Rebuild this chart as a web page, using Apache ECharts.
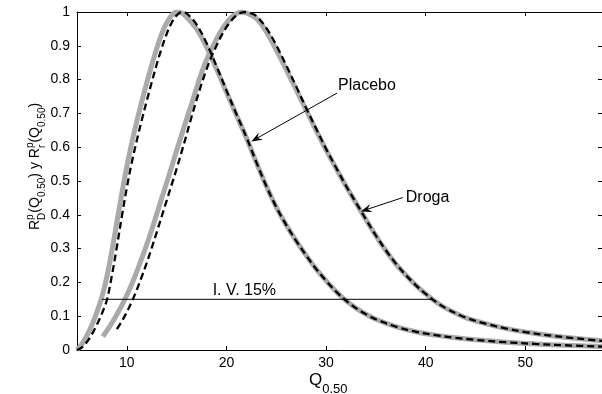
<!DOCTYPE html>
<html><head><meta charset="utf-8">
<script src="https://cdn.jsdelivr.net/npm/echarts@6/dist/echarts.min.js"></script>
<style>html,body{margin:0;padding:0;background:#fff}#c{width:602px;height:394px}</style>
</head><body><div id="c"></div>
<script>
// ---- data ----
const xTickValues = [10, 20, 30, 40, 50];
const xMin = 5, xMax = 57.7;
const yMin = 0, yMax = 1, yStep = 0.1;

const placeboGrayX = [5, 5.5, 6, 6.5, 7, 7.5, 8, 8.5, 9, 9.5, 10, 10.5, 11, 11.5, 12, 12.5, 13, 13.5, 14, 14.5, 15, 15.5, 16, 17, 18, 19, 20, 21, 22, 23, 24, 25, 26, 27, 28, 29, 30, 31, 32, 33, 34, 35, 37, 39, 41, 43, 45, 48, 51, 54, 57.7];
const placeboGrayY = [0, 0.018, 0.043, 0.074, 0.112, 0.157, 0.217, 0.293, 0.378, 0.463, 0.543, 0.613, 0.676, 0.735, 0.79, 0.843, 0.892, 0.935, 0.968, 0.99, 1.0, 0.997, 0.985, 0.95, 0.897, 0.832, 0.763, 0.695, 0.628, 0.555, 0.485, 0.423, 0.37, 0.323, 0.28, 0.24, 0.205, 0.173, 0.146, 0.124, 0.106, 0.091, 0.069, 0.054, 0.044, 0.036, 0.03, 0.023, 0.018, 0.014, 0.01];

const placeboDashX = [5, 5.5, 6, 6.5, 7, 7.5, 8, 8.5, 9, 9.5, 10, 10.5, 11, 11.5, 12, 12.5, 13, 13.5, 14, 14.5, 15, 15.5, 16, 17, 18, 19, 20, 21, 22, 23, 24, 25, 26, 27, 28, 29, 30, 31, 32, 33, 34, 35, 37, 39, 41, 43, 45, 48, 51, 54, 57.7];
const placeboDashY = [0, 0.008, 0.024, 0.047, 0.075, 0.108, 0.148, 0.22, 0.305, 0.395, 0.48, 0.555, 0.62, 0.68, 0.737, 0.792, 0.845, 0.893, 0.935, 0.968, 0.99, 1.0, 0.996, 0.963, 0.908, 0.84, 0.768, 0.698, 0.63, 0.556, 0.485, 0.423, 0.37, 0.323, 0.28, 0.24, 0.205, 0.173, 0.146, 0.124, 0.106, 0.091, 0.069, 0.054, 0.044, 0.036, 0.03, 0.023, 0.018, 0.014, 0.01];

const drogaGrayX = [7.6, 8, 8.5, 9, 9.5, 10, 10.5, 11, 11.5, 12, 12.5, 13, 13.5, 14, 14.5, 15, 15.5, 16, 16.5, 17, 17.5, 18, 18.5, 19, 19.5, 20, 20.5, 21, 21.5, 22, 23, 24, 25, 26, 27, 28, 29, 30, 31, 32, 33, 34, 35, 36, 37, 38, 39, 40, 41, 42, 44, 46, 48, 50, 53, 57.7];
const drogaGrayY = [0.04, 0.057, 0.08, 0.105, 0.132, 0.162, 0.195, 0.232, 0.271, 0.312, 0.356, 0.402, 0.449, 0.495, 0.542, 0.59, 0.637, 0.683, 0.728, 0.775, 0.82, 0.858, 0.89, 0.92, 0.946, 0.967, 0.984, 0.995, 1.0, 0.997, 0.981, 0.942, 0.888, 0.83, 0.77, 0.71, 0.65, 0.592, 0.538, 0.485, 0.435, 0.386, 0.338, 0.294, 0.255, 0.222, 0.192, 0.166, 0.143, 0.124, 0.096, 0.078, 0.064, 0.053, 0.041, 0.027];

const drogaDashX = [9, 9.5, 10, 10.5, 11, 11.5, 12, 12.5, 13, 13.5, 14, 14.5, 15, 15.5, 16, 16.5, 17, 17.5, 18, 18.5, 19, 19.5, 20, 20.5, 21, 21.5, 22, 22.5, 23, 24, 25, 26, 27, 28, 29, 30, 31, 32, 33, 34, 35, 36, 37, 38, 39, 40, 41, 42, 44, 46, 48, 50, 53, 57.7];
const drogaDashY = [0.062, 0.085, 0.112, 0.143, 0.178, 0.217, 0.258, 0.302, 0.348, 0.395, 0.442, 0.489, 0.536, 0.586, 0.637, 0.69, 0.74, 0.787, 0.83, 0.868, 0.9, 0.93, 0.955, 0.975, 0.99, 0.998, 1.0, 0.996, 0.988, 0.953, 0.902, 0.842, 0.78, 0.716, 0.655, 0.595, 0.54, 0.486, 0.436, 0.387, 0.339, 0.295, 0.256, 0.222, 0.192, 0.166, 0.143, 0.124, 0.096, 0.078, 0.064, 0.053, 0.041, 0.027];

const ivLineX = [7.5, 40.6];
const ivLineY = [0.15, 0.15];
const ivLabel = 'I. V. 15%';
const ivLabelAt = [21.8, 0.15];

const placeboLabel = 'Placebo';
const placeboArrowFrom = [31.1, 0.76];
const placeboArrowTo = [22.5, 0.617];
const placeboLabelAt = [31.2, 0.781];

const drogaLabel = 'Droga';
const drogaArrowFrom = [37.7, 0.451];
const drogaArrowTo = [33.5, 0.41];
const drogaLabelAt = [37.8, 0.451];

// ---- chart ----
const FONT = '"Liberation Sans", Arial, Helvetica, sans-serif';
const zip = (xs, ys) => xs.map((x, i) => [x, ys[i]]);
const chart = echarts.init(document.getElementById('c'), null, {renderer: 'canvas'});

const axisLineStyle = {color: '#000', width: 1};
chart.setOption({
  animation: false,
  backgroundColor: '#fff',
  grid: {left: 77, right: -2, top: 12, bottom: 44, containLabel: false},
  xAxis: [{
    type: 'value', position: 'bottom', min: xMin, max: xMax,
    axisLine: {show: true, onZero: false, lineStyle: axisLineStyle},
    axisTick: {show: true, inside: true, length: 4, customValues: xTickValues, lineStyle: axisLineStyle},
    axisLabel: {show: true, customValues: xTickValues, color: '#000', fontSize: 14, fontFamily: FONT, margin: 6},
    splitLine: {show: false}
  }, {
    type: 'value', position: 'top', min: xMin, max: xMax,
    axisLine: {show: true, onZero: false, lineStyle: axisLineStyle},
    axisTick: {show: true, inside: true, length: 4, customValues: xTickValues, lineStyle: axisLineStyle},
    axisLabel: {show: false},
    splitLine: {show: false}
  }],
  yAxis: [{
    type: 'value', position: 'left', min: yMin, max: yMax, interval: yStep,
    axisLine: {show: true, onZero: false, lineStyle: axisLineStyle},
    axisTick: {show: true, inside: true, length: 4, lineStyle: axisLineStyle},
    axisLabel: {color: '#000', fontSize: 14, fontFamily: FONT, margin: 7,
      formatter: v => String(Math.round(v * 10) / 10)},
    splitLine: {show: false}
  }, {
    type: 'value', position: 'right', min: yMin, max: yMax, interval: yStep,
    axisLine: {show: true, onZero: false, lineStyle: axisLineStyle},
    axisTick: {show: true, inside: true, length: 4, lineStyle: axisLineStyle},
    axisLabel: {show: false},
    splitLine: {show: false}
  }],
  series: [
    {type: 'line', name: 'PlaceboGray', data: zip(placeboGrayX, placeboGrayY), showSymbol: false, smooth: 0.35,
      lineStyle: {color: '#aaaaaa', width: 5}, z: 2},
    {type: 'line', name: 'DrogaGray', data: zip(drogaGrayX, drogaGrayY), showSymbol: false, smooth: 0.35,
      lineStyle: {color: '#aaaaaa', width: 5}, z: 2},
    {type: 'line', name: 'PlaceboDash', data: zip(placeboDashX, placeboDashY), showSymbol: false, smooth: 0.35,
      lineStyle: {color: '#000', width: 2.3, type: [7, 4]}, z: 3},
    {type: 'line', name: 'DrogaDash', data: zip(drogaDashX, drogaDashY), showSymbol: false, smooth: 0.35,
      lineStyle: {color: '#000', width: 2.3, type: [7, 4]}, z: 3},
    {type: 'line', name: 'IV', data: zip(ivLineX, ivLineY), showSymbol: false,
      lineStyle: {color: '#000', width: 1}, z: 4}
  ]
});

// ---- annotations & axis titles ----
function measure(t, font) {
  const c = document.createElement('canvas').getContext('2d');
  c.font = font; return c.measureText(t).width;
}
function buildLabel(segs, mainFont, subFont, mainY, supY, subY) {
  const kids = []; let pos = 0;
  const mk = (t, x, y, f) => ({type: 'text', x: x, y: y, style: {text: t, font: f, fill: '#000', align: 'left', verticalAlign: 'middle'}});
  segs.forEach(s => {
    if (s.m !== undefined) {
      kids.push(mk(s.m, pos, mainY, mainFont));
      pos += measure(s.m, mainFont);
    } else {
      let w = 0;
      if (s.sup) { kids.push(mk(s.sup, pos, supY, subFont)); w = Math.max(w, measure(s.sup, subFont)); }
      if (s.sub) { kids.push(mk(s.sub, pos, subY, subFont)); w = Math.max(w, measure(s.sub, subFont)); }
      pos += w;
    }
  });
  return kids;
}
const yLab = buildLabel([{m: 'R'}, {sup: 'p', sub: 'D'}, {m: '(Q'}, {sub: '0.50'}, {m: ') y R'}, {sup: 'p', sub: 'r'}, {m: '(Q'}, {sub: '0.50'}, {m: ')'}],
  '14px ' + FONT, '10px ' + FONT, -4.5, -9.5, 2.5);
const xLab = buildLabel([{m: 'Q'}, {sub: '0.50'}], '17px ' + FONT, '13px ' + FONT, 0, -6, 9.5);

const px = p => chart.convertToPixel({xAxisIndex: 0, yAxisIndex: 0}, p);
function arrow(from, to) {
  const a = px(from), b = px(to);
  const dx = b[0] - a[0], dy = b[1] - a[1], L = Math.hypot(dx, dy);
  const ux = dx / L, uy = dy / L, nx = -uy, ny = ux;
  const hl = 11, hw = 4.2, notch = 7;
  return [
    {type: 'line', shape: {x1: a[0], y1: a[1], x2: b[0] - ux * 6, y2: b[1] - uy * 6}, style: {stroke: '#000', lineWidth: 1}, z: 10},
    {type: 'polygon', shape: {points: [
      [b[0], b[1]],
      [b[0] - ux * hl + nx * hw, b[1] - uy * hl + ny * hw],
      [b[0] - ux * notch, b[1] - uy * notch],
      [b[0] - ux * hl - nx * hw, b[1] - uy * hl - ny * hw]
    ]}, style: {fill: '#000'}, z: 10}
  ];
}
const pl = px(placeboLabelAt), dl = px(drogaLabelAt), iv = px(ivLabelAt);
chart.setOption({graphic: [
  ...arrow(placeboArrowFrom, placeboArrowTo),
  ...arrow(drogaArrowFrom, drogaArrowTo),
  {type: 'text', x: pl[0], y: pl[1], style: {text: placeboLabel, font: '16px ' + FONT, fill: '#000', align: 'left', verticalAlign: 'middle'}, z: 10},
  {type: 'text', x: dl[0] + 2, y: dl[1], style: {text: drogaLabel, font: '16px ' + FONT, fill: '#000', align: 'left', verticalAlign: 'middle'}, z: 10},
  {type: 'text', x: iv[0], y: iv[1] - 1, style: {text: ivLabel, font: '16px ' + FONT, fill: '#000', align: 'center', verticalAlign: 'bottom'}, z: 10},
  {type: 'group', x: 40, y: 230, rotation: Math.PI / 2, children: yLab},
  {type: 'group', x: 309, y: 380, children: xLab}
]});
</script></body></html>
